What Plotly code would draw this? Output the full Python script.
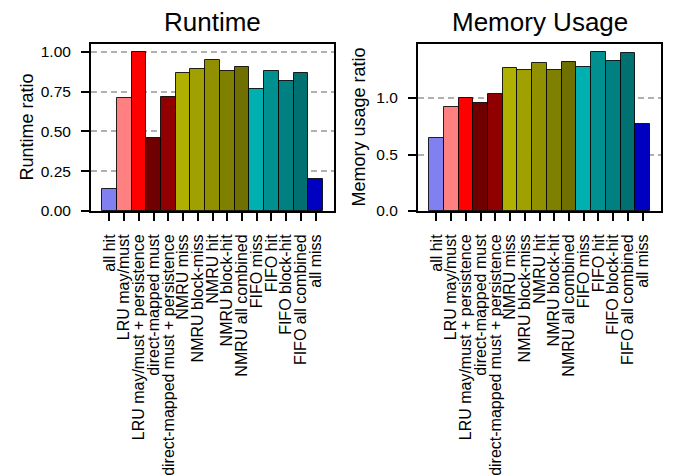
import plotly.graph_objects as go

categories = ["all hit", "LRU may/must", "LRU may/must + persistence",
              "direct-mapped must", "direct-mapped must + persistence",
              "NMRU miss", "NMRU block-miss", "NMRU hit", "NMRU block-hit",
              "NMRU all combined", "FIFO miss", "FIFO hit", "FIFO block-hit",
              "FIFO all combined", "all miss"]
runtime = [0.141, 0.708, 1.0, 0.46, 0.718, 0.870, 0.895, 0.950, 0.880, 0.908,
           0.765, 0.882, 0.819, 0.868, 0.202]
memory = [0.648, 0.917, 1.0, 0.953, 1.033, 1.266, 1.251, 1.308, 1.251, 1.322,
          1.278, 1.408, 1.331, 1.396, 0.772]
colors = ["#8080f0", "#ff8080", "#ff0000", "#700000", "#900000",
          "#b0b000", "#a0a000", "#909000", "#808000", "#707000",
          "#00b0b0", "#009090", "#008080", "#007070", "#0000c0"]

W, H = 677, 476
FONT = "Liberation Sans, Arial, sans-serif"

fig = go.Figure()
idx = list(range(len(categories)))
fig.add_trace(go.Bar(x=idx, y=runtime, marker=dict(color=colors, line=dict(color="rgba(0,0,0,0.85)", width=1)),
                     width=1.0, xaxis="x", yaxis="y", showlegend=False))
fig.add_trace(go.Bar(x=idx, y=memory, marker=dict(color=colors, line=dict(color="rgba(0,0,0,0.85)", width=1)),
                     width=1.0, xaxis="x2", yaxis="y2", showlegend=False))

n = len(categories)
xr = [-0.5 - 0.05 * n, n - 0.5 + 0.05 * n]

def xax(domain, anchor):
    return dict(domain=domain, anchor=anchor, range=xr, tickmode="array", tickvals=idx,
                ticktext=categories, tickangle=-90, ticks="outside", ticklen=8, tickwidth=1.5,
                tickcolor="black", showline=True, linecolor="black", linewidth=2, mirror=True,
                showgrid=False, zeroline=False, tickfont=dict(size=16, color="black", family=FONT),
                ticklabelstandoff=7, automargin=False)

def yax(domain, anchor, rng, tickvals, ticktext):
    return dict(domain=domain, anchor=anchor, range=rng, tickmode="array", tickvals=tickvals,
                ticktext=ticktext, ticks="outside", ticklen=8, tickwidth=1.5, tickcolor="black",
                showline=True, linecolor="black", linewidth=2, mirror=True,
                showgrid=True, gridcolor="#b0b0b0", griddash="6px,4px", gridwidth=1.5,
                zeroline=False, tickfont=dict(size=15.5, color="black", family=FONT),
                ticklabelstandoff=7, automargin=False)

ydom = [1 - 211 / H, 1 - 44 / H]
fig.update_layout(
    width=W, height=H, margin=dict(l=0, r=0, t=0, b=0),
    paper_bgcolor="white", plot_bgcolor="white", bargap=0,
    font=dict(family=FONT, color="black"),
    xaxis=xax([91 / W, 334 / W], "y"),
    yaxis=yax(ydom, "x", [0, 1.05 * max(runtime)], [0, 0.25, 0.5, 0.75, 1.0],
              ["0.00", "0.25", "0.50", "0.75", "1.00"]),
    xaxis2=xax([418 / W, 661 / W], "y2"),
    yaxis2=yax(ydom, "x2", [0, 1.05 * max(memory)], [0, 0.5, 1.0], ["0.0", "0.5", "1.0"]),
)

fig.add_annotation(text="Runtime", xref="x domain", yref="y domain", x=0.5, y=1,
                   xanchor="center", yanchor="bottom", yshift=5, showarrow=False,
                   font=dict(size=26, color="black", family=FONT))
fig.add_annotation(text="Memory Usage", xref="x2 domain", yref="y2 domain", x=0.5, y=1,
                   xanchor="center", yanchor="bottom", yshift=5, showarrow=False,
                   font=dict(size=26, color="black", family=FONT))
fig.add_annotation(text="Runtime ratio", xref="paper", yref="y domain", x=26 / W, y=0.5,
                   xanchor="center", yanchor="middle", textangle=-90, showarrow=False,
                   font=dict(size=18, color="black", family=FONT))
fig.add_annotation(text="Memory usage ratio", xref="paper", yref="y2 domain", x=358 / W, y=0.5,
                   xanchor="center", yanchor="middle", textangle=-90, showarrow=False,
                   font=dict(size=18, color="black", family=FONT))

fig.write_html("out.html", config={"displayModeBar": False},
               post_script="document.body.style.margin='0';document.body.style.padding='0';")
